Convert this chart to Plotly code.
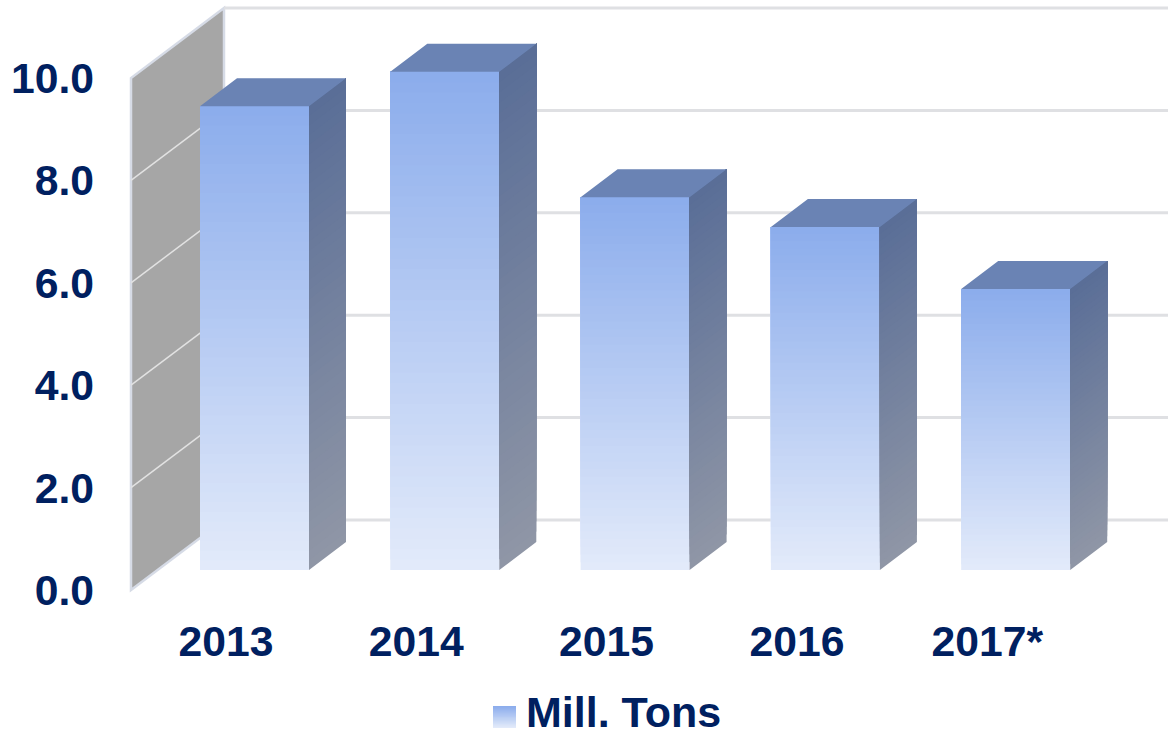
import plotly.graph_objects as go

YEARS = ["2013", "2014", "2015", "2016", "2017*"]
VALUES = [9.06, 9.73, 7.28, 6.70, 5.49]
Y_TICKS = [0, 2, 4, 6, 8, 10]
SERIES_NAME = "Mill. Tons"

W, H = 1168, 737
PLOT_L, PLOT_B = 95, 612
PLOT_W, PLOT_H = W - PLOT_L, PLOT_B
INK = "#002060"
FONT = "Liberation Sans"
FS = 42.7

# projection of the pseudo-3D scene
PX_PER_V = 51.2
PX_PER_CAT = 190.3
Y0_PX = 590.0
X0_PX = 226.0
x_range = [(PLOT_L - X0_PX) / PX_PER_CAT, (W - X0_PX) / PX_PER_CAT]
y_range = [(Y0_PX - PLOT_B) / PX_PER_V, Y0_PX / PX_PER_V]

BASE_V = 20 / PX_PER_V            # bars stand in front of the wall's foot
BAR_SHIFT = 28.5 / PX_PER_CAT     # bars sit right of the tick label
BAR_W = 109 / PX_PER_CAT
DEPTH_X, DEPTH_Y = 37 / PX_PER_CAT, 28 / PX_PER_V
WALL_DX, WALL_DY = 93 / PX_PER_CAT, 70 / PX_PER_V
WALL_X = (131 - X0_PX) / PX_PER_CAT

BANDS = 48


def mix(a, b, t):
    return "rgb(%d,%d,%d)" % tuple(round(a[i] + (b[i] - a[i]) * t) for i in range(3))


FRONT_TOP, FRONT_BOTTOM = (140, 173, 236), (226, 234, 250)
SIDE_TOP, SIDE_BOTTOM = (90, 110, 151), (143, 150, 166)
TOP_FACE = "rgb(106,131,180)"

fig = go.Figure()

# front faces: one bar trace; each band runs to the bar's top and the next band paints over it
fx, fbase, fh, fcol = [], [], [], []
for i, v in enumerate(VALUES):
    for b in range(BANDS):
        t = b / (BANDS - 1)
        fx.append(i + BAR_SHIFT)
        fbase.append(BASE_V + v * b / BANDS)
        fh.append(v * (BANDS - b) / BANDS)
        fcol.append(mix(FRONT_BOTTOM, FRONT_TOP, t))
fig.add_trace(go.Bar(x=fx, y=fh, base=fbase, width=BAR_W, name=SERIES_NAME,
                     marker=dict(color=fcol, line=dict(width=0)), showlegend=False,
                     hoverinfo="skip"))

# side faces: gradient bands as parallelograms
for b in range(BANDS):
    t = b / (BANDS - 1)
    xs, ys = [], []
    for i, v in enumerate(VALUES):
        xr = i + BAR_SHIFT + BAR_W / 2
        lo = BASE_V + v * b / BANDS
        hi = BASE_V + v
        xs += [xr, xr + DEPTH_X, xr + DEPTH_X, xr, xr, None]
        ys += [lo, lo + DEPTH_Y, hi + DEPTH_Y, hi, lo, None]
    fig.add_trace(go.Scatter(x=xs, y=ys, mode="none", fill="toself",
                             fillcolor=mix(SIDE_BOTTOM, SIDE_TOP, t),
                             showlegend=False, hoverinfo="skip"))

# top faces
xs, ys = [], []
for i, v in enumerate(VALUES):
    xl = i + BAR_SHIFT - BAR_W / 2
    xr = xl + BAR_W
    yt = BASE_V + v
    xs += [xl, xr, xr + DEPTH_X, xl + DEPTH_X, xl, None]
    ys += [yt, yt, yt + DEPTH_Y, yt + DEPTH_Y, yt, None]
fig.add_trace(go.Scatter(x=xs, y=ys, mode="none", fill="toself", fillcolor=TOP_FACE,
                         showlegend=False, hoverinfo="skip"))

# wall and gridlines, kept under the bars
shapes = []
EDGE = "#D6DBE6"
ymax = Y_TICKS[-1]
shapes.append(dict(
    type="path", layer="below", xref="x", yref="y",
    path=f"M {WALL_X} 0 L {WALL_X} {ymax} L {WALL_X + WALL_DX} {ymax + WALL_DY} "
         f"L {WALL_X + WALL_DX} {WALL_DY} Z",
    fillcolor="#A6A6A6", line=dict(color=EDGE, width=2.5)))
for v in Y_TICKS:
    if 0 < v < ymax:
        shapes.append(dict(type="line", layer="below", xref="x", yref="y",
                           x0=WALL_X, x1=WALL_X + WALL_DX, y0=v, y1=v + WALL_DY,
                           line=dict(color="#E2E2E2", width=1.5)))
    shapes.append(dict(type="line", layer="below", xref="x", yref="y",
                       x0=WALL_X + WALL_DX, x1=x_range[1], y0=v + WALL_DY, y1=v + WALL_DY,
                       line=dict(color="#DFE0E3", width=3)))


# legend swatch, in paper fractions
def px_x(p):
    return (p - PLOT_L) / PLOT_W


def px_y(p):
    return (PLOT_B - p) / PLOT_H


SW_L, SW_R, SW_T, SW_B = 493, 516, 706, 728
N_SW = 16
for b in range(N_SW):
    t = b / (N_SW - 1)
    p_top = SW_T + (SW_B - SW_T) * b / N_SW
    shapes.append(dict(type="rect", xref="paper", yref="paper", layer="above",
                       x0=px_x(SW_L), x1=px_x(SW_R), y0=px_y(SW_B), y1=px_y(p_top),
                       fillcolor=mix(FRONT_TOP, FRONT_BOTTOM, t), line=dict(width=0)))

fig.update_layout(
    width=W, height=H,
    margin=dict(l=PLOT_L, r=0, t=0, b=H - PLOT_B, autoexpand=False),
    paper_bgcolor="white", plot_bgcolor="white", barmode="overlay",
    font=dict(family=FONT, color=INK, size=FS),
    shapes=shapes, showlegend=False,
    xaxis=dict(range=x_range, tickmode="array", tickvals=list(range(len(YEARS))), ticktext=YEARS,
               showgrid=False, zeroline=False, showline=False, ticks="", ticklen=0,
               tickfont=dict(family=FONT, size=FS, color=INK, weight="bold")),
    yaxis=dict(range=y_range, tickmode="array", tickvals=Y_TICKS,
               ticktext=[f"{v:.1f}" for v in Y_TICKS],
               showgrid=False, zeroline=False, showline=False,
               ticks="", ticklen=0,
               tickfont=dict(family=FONT, size=FS, color=INK, weight="bold")),
    annotations=[dict(text=SERIES_NAME, xref="paper", yref="paper", x=px_x(524), y=px_y(712),
                      xanchor="left", yanchor="middle", showarrow=False,
                      font=dict(family=FONT, size=43, color=INK, weight="bold"))],
)

fig.write_html("out.html", config={"displayModeBar": False},
               post_script="document.body.style.margin='0';")
